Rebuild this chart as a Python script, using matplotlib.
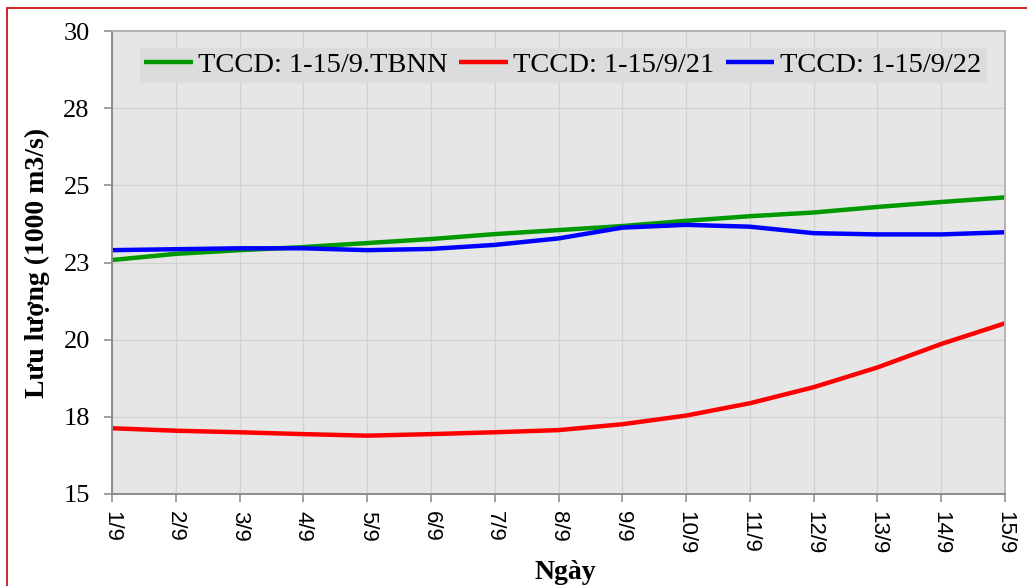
import numpy as np
import matplotlib
matplotlib.use("Agg")
import matplotlib.pyplot as plt
from matplotlib.patches import Rectangle

# ngay 1/9 -> 15/9
ngay = ["1/9", "2/9", "3/9", "4/9", "5/9", "6/9", "7/9", "8/9", "9/9",
        "10/9", "11/9", "12/9", "13/9", "14/9", "15/9"]

# luu luong (1000 m3/s), doc tu hinh
tbnn = [22.58, 22.78, 22.90, 23.00, 23.13, 23.26, 23.42, 23.55, 23.68,
        23.85, 24.00, 24.12, 24.30, 24.46, 24.61]
nam21 = [17.13, 17.05, 17.00, 16.94, 16.89, 16.94, 17.00, 17.07, 17.26,
         17.54, 17.94, 18.46, 19.10, 19.86, 20.53]
nam22 = [22.90, 22.93, 22.96, 22.96, 22.90, 22.94, 23.07, 23.28, 23.63,
         23.72, 23.66, 23.45, 23.41, 23.41, 23.48]

y_ticks = [15, 17.5, 20, 22.5, 25, 27.5, 30]
y_labels = ["15", "18", "20", "23", "25", "28", "30"]

W, H = 1027, 586
fig = plt.figure(figsize=(W / 100, H / 100), dpi=100)
ax = fig.add_axes([112 / W, 1 - 494 / H, (1005 - 112) / W, (494 - 31) / H])

ax.set_facecolor("#e6e6e6")
x = np.arange(len(ngay))
ax.plot(x, tbnn, color="#009900", lw=3.2, label="TCCD: 1-15/9.TBNN", solid_capstyle="butt")
ax.plot(x, nam21, color="#ff0000", lw=3.2, label="TCCD: 1-15/9/21", solid_capstyle="butt")
ax.plot(x, nam22, color="#0000ff", lw=3.2, label="TCCD: 1-15/9/22", solid_capstyle="butt")

ax.set_xlim(0, len(ngay) - 1)
ax.set_ylim(15, 30)
ax.set_xticks(x)
ax.set_xticklabels(ngay, rotation=270, family="Liberation Sans", fontsize=16)
ax.set_yticks(y_ticks)
ax.set_yticklabels(y_labels, family="Liberation Serif", fontsize=19)
ax.tick_params(axis="x", length=6, width=1.2, color="#909090", pad=6)
ax.tick_params(axis="y", length=6, width=1.2, color="#909090", pad=10)

ax.grid(True, color="#d2d2d2", lw=1)
ax.set_axisbelow(True)
for s in ["left", "bottom"]:
    ax.spines[s].set_color("#8c8c8c")
    ax.spines[s].set_linewidth(1.4)
for s in ["top", "right"]:
    ax.spines[s].set_color("#b4b4b4")
    ax.spines[s].set_linewidth(1.4)

ax.set_ylabel("Lưu lượng (1000 m3/s)", family="Liberation Serif", fontsize=20,
              fontweight="bold")
ax.set_xlabel("Ngày", family="Liberation Serif", fontsize=20, fontweight="bold")
ax.xaxis.set_label_coords(0.508, -0.142)
ax.yaxis.set_label_coords(-0.069, 0.5)

leg = ax.legend(loc="upper left", bbox_to_anchor=(140 / W, 1 - 48 / H),
                bbox_transform=fig.transFigure, ncol=3, frameon=True,
                prop={"family": "Liberation Serif", "size": 20.5},
                handlelength=1.7, handletextpad=0.2, columnspacing=0.4,
                borderpad=0.15, borderaxespad=0, fancybox=False)
leg.get_frame().set_facecolor("#dcdcdc")
leg.get_frame().set_edgecolor("#dcdcdc")
leg.get_frame().set_alpha(1)

# khung vien do
fig.add_artist(Rectangle((7 / W, -0.1), 1.2, 1.1 - 8 / H, transform=fig.transFigure,
                         fill=False, edgecolor="#cc0000", lw=1.2))

fig.savefig("out.png", dpi=100)
